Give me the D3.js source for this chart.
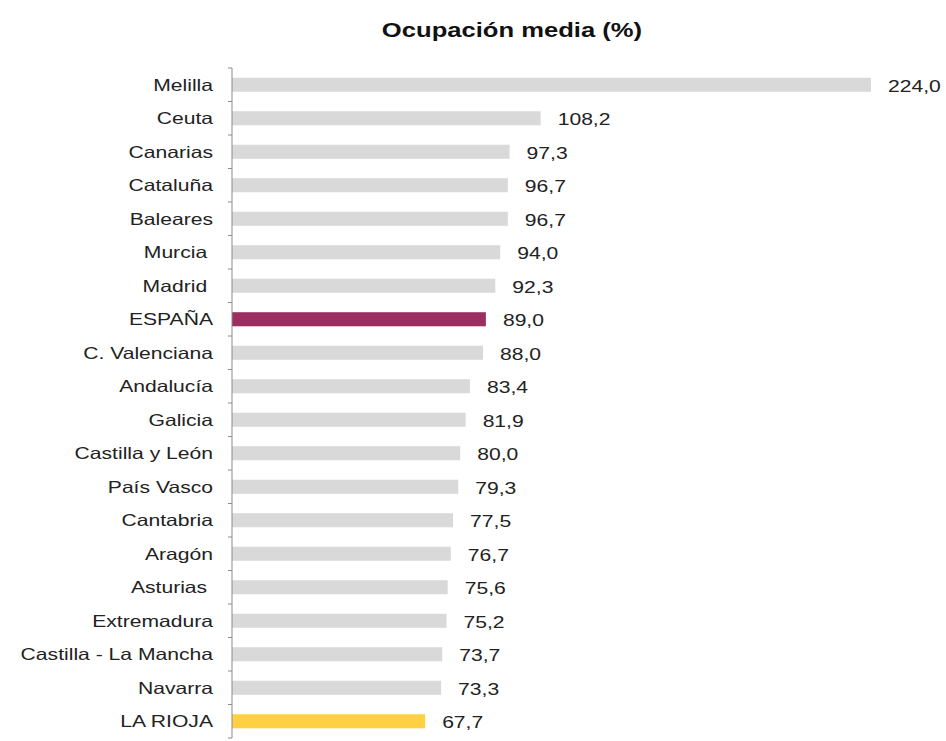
<!DOCTYPE html>
<html>
<head>
<meta charset="utf-8">
<script src="https://cdn.jsdelivr.net/npm/d3@7"></script>
<style>
  body { margin: 0; background: #fff; }
  text { font-family: "Liberation Sans", Arial, sans-serif; fill: #222; white-space: pre; }
</style>
</head>
<body>
<div id="chart"></div>
<script>
// Ocupación media (%) by region
const regions = ["Melilla", "Ceuta", "Canarias", "Cataluña", "Baleares", "Murcia ", "Madrid ",
  "ESPAÑA", "C. Valenciana", "Andalucía", "Galicia", "Castilla y León", "País Vasco",
  "Cantabria", "Aragón", "Asturias ", "Extremadura", "Castilla - La Mancha", "Navarra", "LA RIOJA"];
const occupancy = [224.0, 108.2, 97.3, 96.7, 96.7, 94.0, 92.3, 89.0, 88.0, 83.4, 81.9,
  80.0, 79.3, 77.5, 76.7, 75.6, 75.2, 73.7, 73.3, 67.7];
const highlight = { "ESPAÑA": "#9b2f62", "LA RIOJA": "#ffd042" }; // everything else grey

const width = 946, height = 741;
const stretch = 1.28; // the original text is a bit wide, squash it back out horizontally

const svg = d3.select("#chart").append("svg")
  .attr("width", width)
  .attr("height", height);

const x = d3.scaleLinear().domain([0, 224]).range([232, 871]);
const y = d3.scaleBand().domain(regions).range([68, 738]).paddingInner(0.58).paddingOuter(0.29);

// title
svg.append("text")
  .attr("transform", `translate(512,37) scale(${stretch},1)`)
  .attr("text-anchor", "middle")
  .style("font-size", "20px")
  .style("font-weight", "bold")
  .style("fill", "#111")
  .text("Ocupación media (%)");

// bars
svg.selectAll(".bar")
  .data(regions)
  .join("rect")
  .attr("class", "bar")
  .attr("x", x(0))
  .attr("y", d => y(d))
  .attr("height", y.bandwidth())
  .attr("width", (d, i) => x(occupancy[i]) - x(0))
  .attr("fill", d => highlight[d] || "#d9d9d9");

// value labels, spanish decimal comma
const fmt = v => v.toFixed(1).replace(".", ",");
svg.selectAll(".val")
  .data(regions)
  .join("text")
  .attr("class", "val")
  .attr("transform", (d, i) => `translate(${x(occupancy[i]) + 17},${y(d) + y.bandwidth() / 2 + 7}) scale(${stretch},1)`)
  .style("font-size", "16.5px")
  .text((d, i) => fmt(occupancy[i]));

// category labels
svg.selectAll(".cat")
  .data(regions)
  .join("text")
  .attr("class", "cat")
  .attr("transform", d => `translate(213,${y(d) + y.bandwidth() / 2 + 6}) scale(${stretch},1)`)
  .attr("text-anchor", "end")
  .style("font-size", "16.5px")
  .text(d => d);

// axis line with ticks between categories
const step = y.step();
const edges = d3.range(regions.length + 1).map(i => 68 + i * step);
svg.append("line")
  .attr("x1", 232).attr("x2", 232)
  .attr("y1", 68).attr("y2", 738)
  .attr("stroke", "#8c8c8c")
  .attr("stroke-width", 1);
svg.selectAll(".tick")
  .data(edges)
  .join("line")
  .attr("class", "tick")
  .attr("x1", 228).attr("x2", 232)
  .attr("y1", d => d).attr("y2", d => d)
  .attr("stroke", "#8c8c8c")
  .attr("stroke-width", 1);
</script>
</body>
</html>
